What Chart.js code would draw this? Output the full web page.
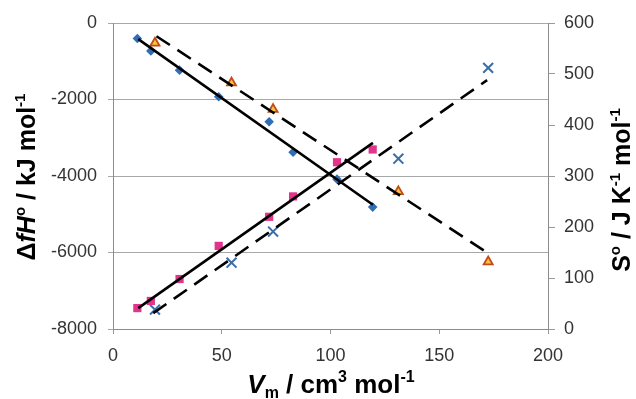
<!DOCTYPE html>
<html>
<head>
<meta charset="utf-8">
<script src="https://cdn.jsdelivr.net/npm/chart.js@4"></script>
<style>
  body { margin: 0; background: #fff; }
  canvas { display: block; }
</style>
</head>
<body>
<canvas id="chart" width="636" height="399"></canvas>
<script>
// molar volumes (x) for the two compound sets
var vm_a = [11.2, 17.4, 30.6, 48.6, 71.8, 82.8, 103, 119.4];
var vm_b = [19.3, 54.5, 73.6, 131.2, 172.5];

// enthalpy of formation, left axis
var dH_a = [-407, -730, -1233, -1930, -2581, -3380, -4083, -4813];
var dH_b = [-521, -1565, -2258, -4407, -6240];

// standard entropy, right axis
var S_a = [41, 55, 98, 163, 220, 260, 327, 352];
var S_b = [38, 130, 191, 334, 512];

// end points of the trend lines
var fit_dH_a_x = [11.6, 119.5], fit_dH_a_y = [-420, -4750];
var fit_dH_b_x = [20, 172.5],   fit_dH_b_y = [-347, -6020];
var fit_S_a_x  = [11.6, 119.5], fit_S_a_y  = [41, 365];
var fit_S_b_x  = [18.5, 172],   fit_S_b_y  = [31, 488];

var x_ticks = [0, 50, 100, 150, 200];
var left_ticks = [0, -2000, -4000, -6000, -8000];
var right_ticks = [0, 100, 200, 300, 400, 500, 600];

function pts(xs, ys) {
  var out = [];
  for (var i = 0; i < xs.length; ++i) {
    out.push({x: xs[i], y: ys[i]});
  }
  return out;
}

function fit_line(xs, ys, axis, dashed) {
  return {
    data: pts(xs, ys),
    yAxisID: axis,
    showLine: true,
    pointRadius: 0,
    borderColor: '#000',
    borderWidth: 2.6,
    borderDash: dashed ? [16, 9] : [],
    order: 0
  };
}

var FONT = "'Liberation Sans', Arial, sans-serif";

function drawRich(ctx, parts, x, y, angle) {
  ctx.save();
  ctx.translate(x, y);
  ctx.rotate(angle);
  var total = 0;
  parts.forEach(function(p) { ctx.font = p[1]; total += ctx.measureText(p[0]).width; });
  var cx = -total / 2;
  ctx.fillStyle = '#000';
  ctx.textBaseline = 'alphabetic';
  ctx.textAlign = 'left';
  parts.forEach(function(p) {
    ctx.font = p[1];
    ctx.fillText(p[0], cx, p[2] || 0);
    cx += ctx.measureText(p[0]).width;
  });
  ctx.restore();
}

var XB = 'bold 26px ' + FONT;
var XBI = 'italic bold 26px ' + FONT;
var XSM = 'bold 16px ' + FONT;
var B = 'bold 25px ' + FONT;
var BI = 'italic bold 25px ' + FONT;
var SM = 'bold 15px ' + FONT;

var axisTitles = {
  id: 'axisTitles',
  afterDraw: function(chart) {
    var ctx = chart.ctx;
    drawRich(ctx, [['V', XBI], ['m', XSM, 5], [' / cm', XB], ['3', XSM, -11], [' mol', XB], ['-1', XSM, -11]],
      331, 393, 0);
    drawRich(ctx, [['\u0394', B], ['f', BI], ['H', BI], ['o', SM, -10], [' / kJ mol', B], ['-1', SM, -10]],
      35, 177, -Math.PI / 2);
    drawRich(ctx, [['S', B], ['o', SM, -10], [' / J K', B], ['-1', SM, -10], [' mol', B], ['-1', SM, -10]],
      630, 190, -Math.PI / 2);
  }
};

var tickFont = {family: FONT, size: 18};
function plain(v) { return String(v); }

new Chart(document.getElementById('chart'), {
  type: 'scatter',
  data: {
    datasets: [
      {
        data: pts(vm_a, dH_a), yAxisID: 'y',
        pointStyle: 'rectRot', pointRadius: 4.8,
        backgroundColor: '#2f6db5', borderColor: '#2f6db5', borderWidth: 0, order: 1
      },
      {
        data: pts(vm_b, dH_b), yAxisID: 'y',
        pointStyle: 'triangle', pointRadius: 5.2,
        backgroundColor: '#f6c63a', borderColor: '#c4481b', borderWidth: 1.8, order: 1
      },
      {
        data: pts(vm_a, S_a), yAxisID: 'y2',
        pointStyle: 'rect', pointRadius: 5.8,
        backgroundColor: '#e2348c', borderColor: '#e2348c', borderWidth: 0, order: 1
      },
      {
        data: pts(vm_b, S_b), yAxisID: 'y2',
        pointStyle: 'crossRot', pointRadius: 7,
        backgroundColor: '#3b6da8', borderColor: '#3b6da8', borderWidth: 2, order: 1
      },
      fit_line(fit_dH_a_x, fit_dH_a_y, 'y', false),
      fit_line(fit_dH_b_x, fit_dH_b_y, 'y', true),
      fit_line(fit_S_a_x, fit_S_a_y, 'y2', false),
      fit_line(fit_S_b_x, fit_S_b_y, 'y2', true)
    ]
  },
  options: {
    responsive: false,
    animation: false,
    devicePixelRatio: 1,
    layout: {padding: {top: 23, left: 0, right: 0, bottom: 0}},
    plugins: {legend: {display: false}, tooltip: {enabled: false}},
    scales: {
      x: {
        type: 'linear', min: 0, max: 200,
        afterBuildTicks: function(s) { s.ticks = x_ticks.map(function(v) { return {value: v}; }); },
        afterFit: function(s) { s.height = 70; },
        grid: {drawOnChartArea: false, drawTicks: true, tickLength: 5, color: '#999'},
        border: {color: '#8c8c8c'},
        ticks: {font: tickFont, color: '#333', padding: 11, callback: plain}
      },
      y: {
        type: 'linear', position: 'left', min: -8000, max: 0,
        afterBuildTicks: function(s) { s.ticks = left_ticks.map(function(v) { return {value: v}; }); },
        afterFit: function(s) { s.width = 113; },
        grid: {color: '#a8a8a8', tickLength: 5},
        border: {color: '#8c8c8c'},
        ticks: {font: tickFont, color: '#333', padding: 11, callback: plain}
      },
      y2: {
        type: 'linear', position: 'right', min: 0, max: 600,
        afterBuildTicks: function(s) { s.ticks = right_ticks.map(function(v) { return {value: v}; }); },
        afterFit: function(s) { s.width = 88; },
        grid: {drawOnChartArea: false, tickLength: 7, color: '#999'},
        border: {color: '#8c8c8c'},
        ticks: {font: tickFont, color: '#333', padding: 9, callback: plain}
      }
    }
  },
  plugins: [axisTitles]
});
</script>
</body>
</html>
